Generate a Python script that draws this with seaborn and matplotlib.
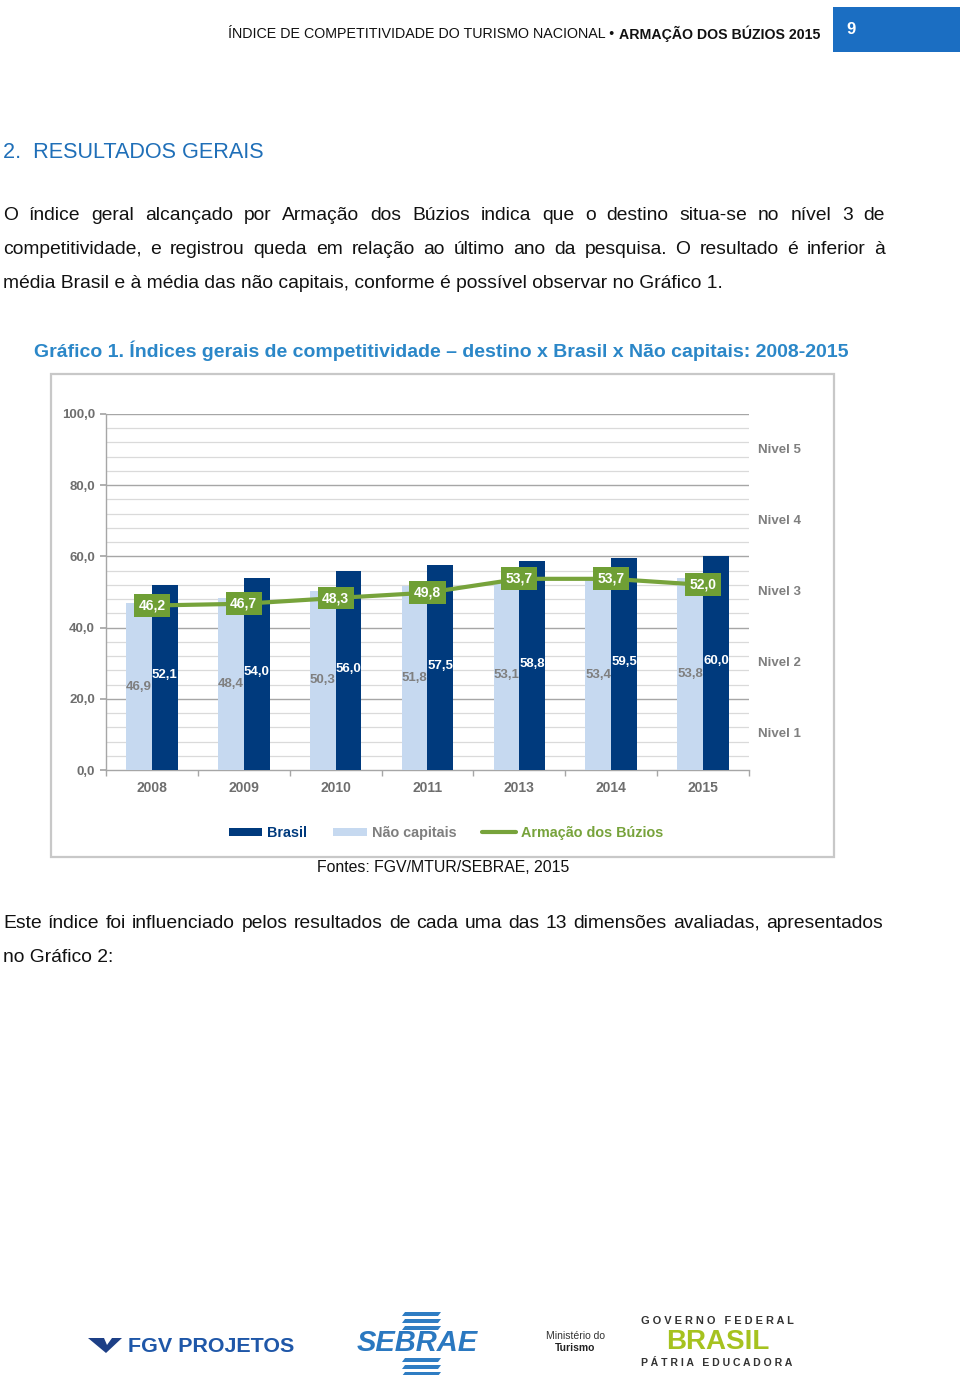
import numpy as np
import pandas as pd
import matplotlib
matplotlib.use("Agg")
import matplotlib.pyplot as plt
import matplotlib.transforms as mtransforms
from matplotlib.patches import Rectangle, Polygon, Patch
from matplotlib.lines import Line2D
import seaborn as sns

# ---------------- data ----------------
anos = ['2008', '2009', '2010', '2011', '2013', '2014', '2015']
brasil = [52.1, 54.0, 56.0, 57.5, 58.8, 59.5, 60.0]
nao_capitais = [46.9, 48.4, 50.3, 51.8, 53.1, 53.4, 53.8]
buzios = [46.2, 46.7, 48.3, 49.8, 53.7, 53.7, 52.0]
niveis = ['Nivel 1', 'Nivel 2', 'Nivel 3', 'Nivel 4', 'Nivel 5']
nivel_centros = [10, 30, 50, 70, 90]
y_ticks = [0, 20, 40, 60, 80, 100]
series_names = ['Brasil', 'Não capitais', 'Armação dos Búzios']

# ---------------- style ----------------
sns.set_theme(style='white')
plt.rcParams['font.family'] = ['Liberation Sans', 'DejaVu Sans']

NAVY = '#003A7D'
LIGHT = '#C6D9F0'
GREEN = '#77A33B'
GREEN_BOX = '#6F9F35'
GRAY_TXT = '#7F7F7F'
BLUE_TITLE = '#1F6FB8'
BLUE_CAP = '#2B87C8'
BLUE_BOX = '#1B6EC2'

W, H = 960, 1375
fig = plt.figure(figsize=(W / 100, H / 100), dpi=100)
fig.patch.set_facecolor('white')
R = fig.canvas.get_renderer()


def fx(px):
    return px / W


def fy(py):
    return 1 - py / H


def width(t):
    return t.get_window_extent(R).width


def fit(t, target):
    w = width(t)
    t.set_fontsize(t.get_fontsize() * target / w)
    return t


def justify(line, x0, x1, yc, **kw):
    words = line.split()
    ts = [fig.text(fx(x0), fy(yc), w, va='center', ha='left', **kw) for w in words]
    ws = [width(t) for t in ts]
    gap = (x1 - x0 - sum(ws)) / (len(ws) - 1)
    x = x0
    for t, w in zip(ts, ws):
        t.set_x(fx(x))
        x += w + gap


def fmt(v):
    return f"{v:.1f}".replace('.', ',')


# ---------------- header ----------------
fig.patches.append(Rectangle((fx(833), fy(52)), fx(960) - fx(833), fy(7) - fy(52),
                             transform=fig.transFigure, facecolor=BLUE_BOX, edgecolor='none'))
fig.text(fx(846), fy(30), '9', color='white', fontsize=12, fontweight='bold',
         va='center', ha='left')
tb = fig.text(fx(820), fy(34), 'ARMAÇÃO DOS BÚZIOS 2015', fontsize=10.5, fontweight='bold',
              ha='right', va='center', color='#111111')
fit(tb, 201)
bx = tb.get_window_extent(R).x0
tr = fig.text(bx / W - fx(4), fy(34), 'ÍNDICE DE COMPETITIVIDADE DO TURISMO NACIONAL •', fontsize=10.5,
              ha='right', va='center', color='#111111')
fit(tr, 388)

# ---------------- section title & text ----------------
t = fig.text(fx(3), fy(153), '2.  RESULTADOS GERAIS', fontsize=16, color=BLUE_TITLE,
             va='center', ha='left')
fit(t, 262)

PFS = 13.9
justify('O índice geral alcançado por Armação dos Búzios indica que o destino situa-se no nível 3 de',
        3, 885, 216, fontsize=PFS, color='#111111')
justify('competitividade, e registrou queda em relação ao último ano da pesquisa. O resultado é inferior à',
        3, 885, 250, fontsize=PFS, color='#111111')
fig.text(fx(3), fy(283), 'média Brasil e à média das não capitais, conforme é possível observar no Gráfico 1.',
         fontsize=PFS, color='#111111', va='center', ha='left')

t = fig.text(fx(34), fy(351),
             'Gráfico 1. Índices gerais de competitividade – destino x Brasil x Não capitais: 2008-2015',
             fontsize=12.5, fontweight='bold', color=BLUE_CAP, va='center', ha='left')
fit(t, 819)

# chart frame
fig.patches.append(Rectangle((fx(51), fy(857)), fx(834) - fx(51), fy(374) - fy(857),
                             transform=fig.transFigure, facecolor='white', edgecolor='#C8C8C8',
                             linewidth=1.6, zorder=-1))

# ---------------- chart ----------------
ax = fig.add_axes([fx(106), fy(770), fx(749) - fx(106), fy(414) - fy(770)])
ax.set_zorder(1)
ax.set_facecolor('none')

df = pd.DataFrame({
    'ano': anos * 2,
    'valor': nao_capitais + brasil,
    'serie': ['Não capitais'] * len(anos) + ['Brasil'] * len(anos),
})
sns.barplot(data=df, x='ano', y='valor', hue='serie', hue_order=['Não capitais', 'Brasil'],
            palette={'Não capitais': LIGHT, 'Brasil': NAVY}, width=0.56, saturation=1,
            dodge=True, gap=0, legend=False, ax=ax, zorder=3, edgecolor='none', linewidth=0)

idx = np.arange(len(anos))
sns.lineplot(x=idx, y=buzios, ax=ax, color=GREEN, linewidth=3, legend=False, zorder=4)

off = 0.14
for i in idx:
    ax.text(i - off, nao_capitais[i] / 2, fmt(nao_capitais[i]), ha='center', va='center',
            color=GRAY_TXT, fontsize=9.5, fontweight='bold', zorder=5)
    ax.text(i + off, brasil[i] / 2 + 0.5, fmt(brasil[i]), ha='center', va='center',
            color='white', fontsize=9.5, fontweight='bold', zorder=5)
    ax.text(i, buzios[i], fmt(buzios[i]), ha='center', va='center', color='white',
            fontsize=10, fontweight='bold', zorder=6,
            bbox=dict(boxstyle='square,pad=0.32', facecolor=GREEN_BOX, edgecolor='none'))

ax.set_ylim(0, 100)
ax.set_xlim(-0.5, len(anos) - 0.5)
ax.set_yticks(y_ticks)
ax.set_yticklabels([fmt(v) for v in y_ticks])
ax.set_yticks(np.arange(0, 101, 4), minor=True)
ax.set_xticks(idx)
ax.set_xticklabels(anos)
ax.set_xticks(np.arange(-0.5, len(anos), 1), minor=True)
ax.set_xlabel('')
ax.set_ylabel('')

ax.grid(False)
for v in np.arange(4, 101, 4):
    major = (v % 20 == 0)
    ax.axhline(v, color='#A6A6A6' if major else '#DADADA', linewidth=1.0 if major else 0.9, zorder=1)

for s in ['top', 'right']:
    ax.spines[s].set_visible(False)
for s in ['left', 'bottom']:
    ax.spines[s].set_color('#A6A6A6')
    ax.spines[s].set_linewidth(1.0)

ax.tick_params(axis='y', which='major', length=4, color='#A6A6A6', pad=4, labelsize=9.5,
               labelcolor='#6E6E6E', left=True)
ax.tick_params(axis='y', which='minor', length=0)
ax.tick_params(axis='x', which='major', length=0, pad=8, labelsize=10, labelcolor='#6E6E6E')
ax.tick_params(axis='x', which='minor', length=4, color='#A6A6A6', bottom=True)
for lab in ax.get_yticklabels() + ax.get_xticklabels():
    lab.set_fontweight('bold')

trans = mtransforms.blended_transform_factory(ax.transAxes, ax.transData)
for name, c in zip(niveis, nivel_centros):
    ax.text(1.014, c, name, transform=trans, ha='left', va='center', color=GRAY_TXT,
            fontsize=9.5, fontweight='bold')

# legend
handles = [Patch(facecolor=NAVY, edgecolor='none'),
           Patch(facecolor=LIGHT, edgecolor='none'),
           Line2D([0], [0], color=GREEN, linewidth=3)]
leg = fig.legend(handles, series_names, loc='center', bbox_to_anchor=(fx(446), fy(833)),
                 ncol=3, frameon=False, handlelength=2.3, handleheight=0.5,
                 handletextpad=0.35, columnspacing=1.8, prop={'weight': 'bold', 'size': 10.4})
for txt, c in zip(leg.get_texts(), [NAVY, GRAY_TXT, GREEN]):
    txt.set_color(c)

# source
t = fig.text(fx(443), fy(868), 'Fontes: FGV/MTUR/SEBRAE, 2015', fontsize=11.6, color='#111111',
             ha='center', va='center')
fit(t, 255)

justify('Este índice foi influenciado pelos resultados de cada uma das 13 dimensões avaliadas, apresentados',
        3, 883, 923, fontsize=PFS, color='#111111')
fig.text(fx(3), fy(957), 'no Gráfico 2:', fontsize=PFS, color='#111111', va='center', ha='left')

# ---------------- footer logos ----------------
fig.patches.append(Polygon([(fx(88), fy(1338)), (fx(104), fy(1338)), (fx(107), fy(1345)),
                            (fx(112), fy(1338)), (fx(122), fy(1338)), (fx(106), fy(1353))],
                           closed=True, transform=fig.transFigure, facecolor='#1D3F86', edgecolor='none'))
t = fig.text(fx(128), fy(1346), 'FGV PROJETOS', fontsize=15, fontweight='bold', color='#1F57A8',
             va='center', ha='left')
fit(t, 167)

for yy in [1312, 1319, 1326, 1358, 1365, 1372]:
    fig.patches.append(Polygon([(fx(402), fy(yy + 4)), (fx(438), fy(yy + 4)),
                                (fx(441), fy(yy)), (fx(405), fy(yy))],
                               closed=True, transform=fig.transFigure, facecolor='#2F7DC3', edgecolor='none'))
t = fig.text(fx(357), fy(1343), 'SEBRAE', fontsize=20, fontweight='bold', style='italic',
             color='#2A78C0', va='center', ha='left')
fit(t, 121)

fig.text(fx(575), fy(1336), 'Ministério do', fontsize=7.5, color='#333333', ha='center', va='center')
fig.text(fx(575), fy(1348), 'Turismo', fontsize=7.5, fontweight='bold', color='#222222',
         ha='center', va='center')

t = fig.text(fx(641), fy(1321), 'G O V E R N O   F E D E R A L', fontsize=6, fontweight='bold',
             color='#333333', va='center', ha='left')
fit(t, 154)
fig.text(fx(718), fy(1342), 'BRASIL', fontsize=20, fontweight='bold', color='#A6C21F',
         va='center', ha='center')
t = fig.text(fx(641), fy(1363), 'P Á T R I A   E D U C A D O R A', fontsize=6, fontweight='bold',
             color='#333333', va='center', ha='left')
fit(t, 154)

fig.savefig('out.png', dpi=100, facecolor='white')
